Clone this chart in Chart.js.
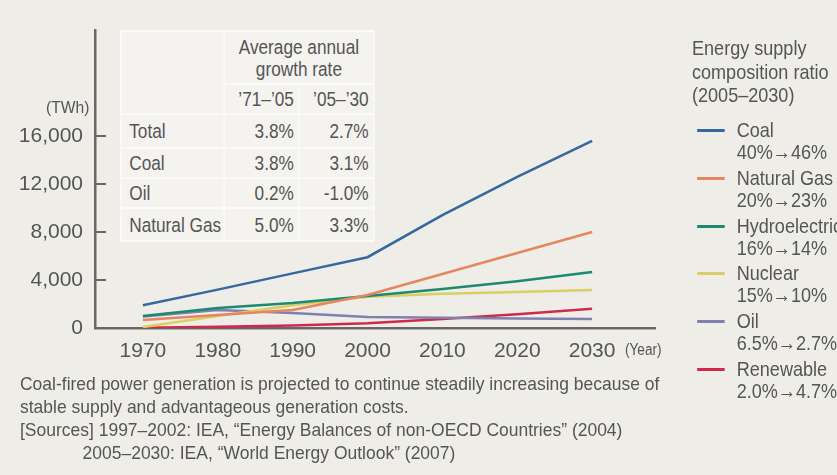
<!DOCTYPE html>
<html>
<head>
<meta charset="utf-8">
<script src="https://cdn.jsdelivr.net/npm/chart.js@4.4.1/dist/chart.umd.min.js"></script>
<style>
  body { margin: 0; background: #eeede8; }
  #wrap { position: relative; width: 837px; height: 475px; overflow: hidden;
          font-family: 'Liberation Sans', Arial, sans-serif; color: #555; }
  #chart { position: absolute; left: 0; top: 0; }
  .abs { position: absolute; white-space: nowrap; transform-origin: 0 0; }
  /* table is laid out wide, then squeezed to look condensed */
  #growth { position: absolute; left: 120px; top: 30px; width: 301px; border-collapse: collapse; table-layout: fixed;
            background: #f4f3ef; font-size: 20.5px; transform: scaleX(0.84); transform-origin: 0 0; }
  #growth td { border: 2px solid #fbfaf8; padding: 0 5px 0 0; text-align: right; white-space: nowrap; overflow: hidden; }
  #growth td.name { text-align: left; padding-left: 9px; }
  #growth td.head { text-align: center; line-height: 22px; padding: 0; }
  #legendBox { position: absolute; left: 692px; top: 0; width: 170px; height: 420px;
               transform: scaleX(0.86); transform-origin: 0 0; font-size: 21px; }
  #legendTitle { left: 0; top: 36px; line-height: 23.5px; }
  .entry { position: absolute; left: 52px; line-height: 22px; white-space: nowrap; }
  .swatch { position: absolute; left: -46px; top: 10px; width: 32px; height: 3px; }
  #notes { left: 20px; top: 372px; font-size: 19px; line-height: 23px; transform: scaleX(0.92); }
</style>
</head>
<body>
<div id="wrap">
  <canvas id="chart" width="837" height="475"></canvas>
  <div class="abs" style="left:46px; top:98px; font-size:17px; transform:scaleX(0.92);">(TWh)</div>
  <div class="abs" style="left:625px; top:341px; font-size:16px; transform:scaleX(0.85);">(Year)</div>
  <table id="growth"><colgroup><col style="width:123px"><col style="width:89px"><col style="width:89px"></colgroup></table>
  <div id="legendBox">
    <div id="legendTitle" class="abs">Energy supply<br>composition ratio<br>(2005–2030)</div>
  </div>
  <div id="notes" class="abs">Coal-fired power generation is projected to continue steadily increasing because of<br>stable supply and advantageous generation costs.<br>[Sources] 1997–2002: IEA, “Energy Balances of non-OECD Countries” (2004)<br><span style="padding-left:68px">2005–2030: IEA, “World Energy Outlook” (2007)</span></div>
</div>
<script>
// Data (TWh)
const years = [1970, 1980, 1990, 2000, 2010, 2020, 2030];
const coal = [1900, 3200, 4550, 5900, 9400, 12600, 15600];
const naturalGas = [670, 1080, 1500, 2750, 4500, 6250, 8000];
const hydro = [1000, 1670, 2080, 2670, 3250, 3900, 4670];
const nuclear = [80, 1000, 1900, 2600, 2850, 3000, 3170];
const oil = [950, 1500, 1250, 920, 850, 800, 750];
const renewable = [30, 100, 200, 400, 750, 1150, 1600];

const seriesNames = ['Coal', 'Natural Gas', 'Hydroelectric', 'Nuclear', 'Oil', 'Renewable'];
const seriesRatios = ['40%→46%', '20%→23%', '16%→14%', '15%→10%', '6.5%→2.7%', '2.0%→4.7%'];
const seriesValues = [coal, naturalGas, hydro, nuclear, oil, renewable];
const lineColors = ['#35689f', '#e5865f', '#1c8a72', '#d9cf62', '#7f80ae', '#cf2a4b'];

const yTicks = [0, 4000, 8000, 12000, 16000];
const xTicks = [1970, 1980, 1990, 2000, 2010, 2020, 2030];

// Growth rate table
const growthRows = ['Total', 'Coal', 'Oil', 'Natural Gas'];
const growth7105 = ['3.8%', '3.8%', '0.2%', '5.0%'];
const growth0530 = ['2.7%', '3.1%', '-1.0%', '3.3%'];
const periodLabels = ['’71–’05', '’05–’30'];

const axisColor = '#6a6866';
const textColor = '#555';
const fontFamily = "'Liberation Sans', Arial, sans-serif";

// build the table
const table = document.getElementById('growth');
let html = '<tr style="height:53px"><td rowspan="2"></td><td class="head" colspan="2">Average annual<br>growth rate</td></tr>';
html += '<tr style="height:30px"><td>' + periodLabels[0] + '</td><td>' + periodLabels[1] + '</td></tr>';
const rowHeights = [34, 30, 30, 33];
growthRows.forEach((name, i) => {
    html += '<tr style="height:' + rowHeights[i] + 'px"><td class="name">' + name + '</td><td>' + growth7105[i] + '</td><td>' + growth0530[i] + '</td></tr>';
});
table.insertAdjacentHTML('beforeend', html);

// build the legend
const legendBox = document.getElementById('legendBox');
seriesNames.forEach((name, i) => {
    const div = document.createElement('div');
    div.className = 'entry';
    div.style.top = (119 + i * 47.8) + 'px';
    div.innerHTML = '<span class="swatch" style="background:' + lineColors[i] + '"></span>' + name + '<br>' + seriesRatios[i];
    legendBox.appendChild(div);
});

// small tick marks inside the y axis
const innerTicks = {
    id: 'innerTicks',
    afterDraw(chart) {
        const y = chart.scales.y;
        const ctx = chart.ctx;
        ctx.save();
        ctx.strokeStyle = axisColor;
        ctx.lineWidth = 2;
        yTicks.forEach(v => {
            if (v === 0) return;
            const py = Math.round(y.getPixelForValue(v));
            ctx.beginPath();
            ctx.moveTo(y.right, py);
            ctx.lineTo(y.right + 11, py);
            ctx.stroke();
        });
        ctx.restore();
    }
};

const chart = new Chart(document.getElementById('chart').getContext('2d'), {
    type: 'line',
    data: {
        datasets: seriesNames.map((name, i) => ({
            label: name,
            data: years.map((yr, j) => ({x: yr, y: seriesValues[i][j]})),
            borderColor: lineColors[i],
            borderWidth: 2.5,
            pointRadius: 0,
            tension: 0,
            fill: false
        }))
    },
    options: {
        responsive: false,
        animation: false,
        layout: {padding: {left: 0, right: 182, top: 30, bottom: 0}},
        plugins: {
            legend: {display: false},
            tooltip: {enabled: false}
        },
        scales: {
            x: {
                type: 'linear',
                min: 1963.6,
                max: 2038.4,
                afterBuildTicks: scale => { scale.ticks = xTicks.map(v => ({value: v})); },
                afterFit: scale => { scale.height = 147; },
                grid: {display: false, drawTicks: false},
                border: {color: axisColor, width: 2.5},
                ticks: {
                    color: textColor,
                    padding: 11,
                    font: {family: fontFamily, size: 21},
                    callback: v => String(v)
                }
            },
            y: {
                min: 0,
                max: 24833,
                afterBuildTicks: scale => { scale.ticks = yTicks.map(v => ({value: v})); },
                afterFit: scale => { scale.width = 95; },
                grid: {display: false, drawTicks: false},
                border: {color: axisColor, width: 2.5},
                ticks: {
                    color: textColor,
                    padding: 12,
                    font: {family: fontFamily, size: 21},
                    callback: v => v.toLocaleString('en-US')
                }
            }
        }
    },
    plugins: [innerTicks]
});
</script>
</body>
</html>
